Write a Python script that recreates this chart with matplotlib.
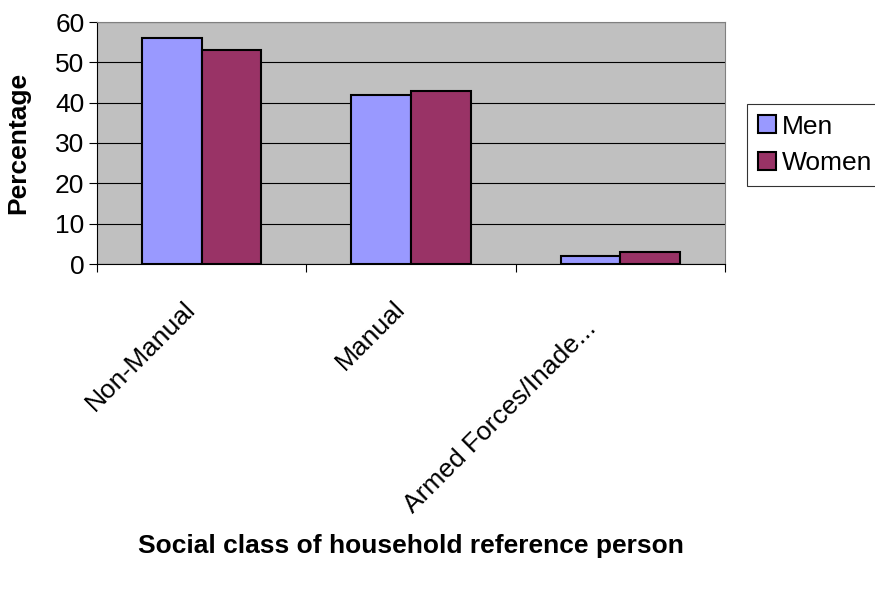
import numpy as np
import matplotlib
matplotlib.use("Agg")
import matplotlib.pyplot as plt
from matplotlib.ticker import FixedLocator, NullFormatter
from matplotlib.transforms import ScaledTranslation

plt.rcParams['font.family'] = ['Liberation Sans', 'DejaVu Sans']

categories = ['Non-Manual', 'Manual', 'Armed Forces/Inade...']
men = [56, 42, 2]
women = [53, 43, 3]
y_ticks = [0, 10, 20, 30, 40, 50, 60]

fs = 19
fig = plt.figure(figsize=(8.75, 5.9), dpi=100)
ax = fig.add_axes([97 / 875, 1 - 264 / 590, (725 - 97) / 875, (264 - 22) / 590])

x = np.arange(len(categories))
w = 1 / 3.5
ax.bar(x - w / 2, men, w, color='#9999ff', edgecolor='black', linewidth=1.5, label='Men', zorder=3)
ax.bar(x + w / 2, women, w, color='#993366', edgecolor='black', linewidth=1.5, label='Women', zorder=3)

ax.set_facecolor('#c0c0c0')
ax.set_xlim(-0.5, len(categories) - 0.5)
ax.set_ylim(0, 60)
ax.set_yticks(y_ticks)
ax.yaxis.grid(True, color='black', linewidth=0.8, zorder=1)
ax.set_axisbelow(True)

# ticks at category boundaries, labels at centres
ax.xaxis.set_major_locator(FixedLocator(np.arange(len(categories) + 1) - 0.5))
ax.xaxis.set_major_formatter(NullFormatter())
ax.xaxis.set_minor_locator(FixedLocator(x))
ax.set_xticklabels(categories, minor=True, rotation=45, ha='right', va='center',
                   rotation_mode='anchor', fontsize=fs)
ax.tick_params(axis='x', which='minor', length=0, pad=22)
ax.tick_params(axis='x', which='major', length=6, direction='out')
ax.tick_params(axis='y', length=6, direction='out', labelsize=fs, pad=3)

# nudge rotated labels (pixels right, down)
nudge = [(-10, 11), (-10, 10), (-28, 30)]
for lbl, (dx, dy) in zip(ax.get_xticklabels(minor=True), nudge):
    lbl.set_transform(lbl.get_transform() + ScaledTranslation(dx / 100, -dy / 100, fig.dpi_scale_trans))

for s in ['top', 'right']:
    ax.spines[s].set_color('#808080')
for s in ['left', 'bottom']:
    ax.spines[s].set_color('black')

ax.set_ylabel('Percentage', fontsize=fs, fontweight='bold', labelpad=18)
fig.text(411 / 875, 1 - 546 / 590, 'Social class of household reference person',
         ha='center', va='center', fontsize=fs, fontweight='bold')

leg = fig.legend(loc='upper left', bbox_to_anchor=(747 / 875, 1 - 104 / 590), fontsize=fs,
                 frameon=True, fancybox=False, edgecolor='black', handlelength=0.68,
                 handleheight=0.68, handletextpad=0.23, borderpad=0.4, labelspacing=0.49,
                 borderaxespad=0)
leg.get_frame().set_linewidth(0.8)

fig.savefig('out.png', dpi=100, facecolor='white')
